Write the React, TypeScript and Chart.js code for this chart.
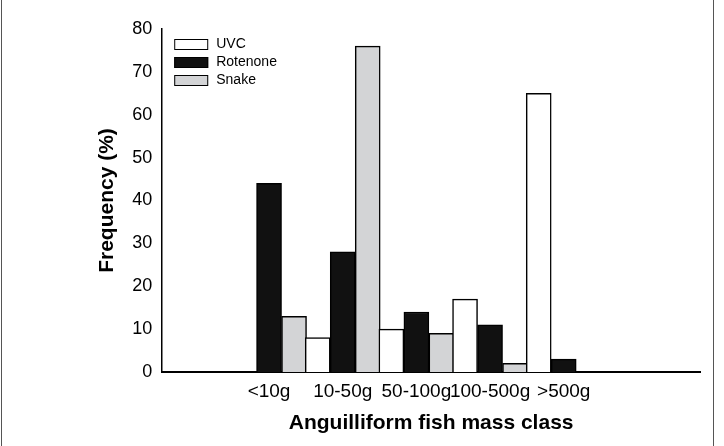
import React, { useEffect, useRef } from "react";
import { Chart, registerables } from "chart.js";
Chart.register(...registerables);

const categories = ["<10g", "10-50g", "50-100g", "100-500g", ">500g"];
const uvc = [0, 8, 10, 17, 65];
const rotenone = [44, 28, 14, 11, 3];
const snake = [13, 76, 9, 2, 0];
const yTicks = [0, 10, 20, 30, 40, 50, 60, 70, 80];

const legendPlugin = {
  id: "insideLegend",
  afterDraw(chart: any) {
    const ctx = chart.ctx;
    const { left, top } = chart.chartArea;
    ctx.save();
    ctx.font = "14px Arial, 'Liberation Sans', sans-serif";
    ctx.textBaseline = "middle";
    chart.data.datasets.forEach((ds: any, i: number) => {
      const y = top + 15 + i * 18;
      const x = left + 12;
      ctx.fillStyle = ds.backgroundColor;
      ctx.fillRect(x, y - 5, 34, 11);
      ctx.strokeStyle = "#000";
      ctx.lineWidth = 1;
      ctx.strokeRect(x + 0.5, y - 4.5, 33, 10);
      ctx.fillStyle = "#000";
      ctx.fillText(ds.label, x + 42, y);
    });
    ctx.restore();
  },
};

export default function App() {
  const ref = useRef<HTMLCanvasElement>(null);
  useEffect(() => {
    const mk = (arr: number[]) => arr.map((v, i) => ({ x: i, y: v }));
    const common = { borderColor: "#000", borderWidth: 1.5, barThickness: 25, borderSkipped: "bottom" };
    const chart = new Chart(ref.current!, {
      type: "bar",
      data: {
        datasets: [
          { label: "UVC", data: mk(uvc), backgroundColor: "#ffffff", ...common },
          { label: "Rotenone", data: mk(rotenone), backgroundColor: "#111111", ...common },
          { label: "Snake", data: mk(snake), backgroundColor: "#d3d4d6", ...common },
        ] as any,
      },
      options: {
        animation: false,
        responsive: false,
        layout: { padding: { left: 91, right: 24, top: 29, bottom: 10 } },
        plugins: { legend: { display: false }, tooltip: { enabled: false } },
        scales: {
          x: {
            type: "linear",
            min: -0.72,
            max: 5.12,
            grid: { display: false, drawTicks: false },
            border: { color: "#000", width: 2 },
            afterBuildTicks: (axis: any) => {
              axis.ticks = categories.map((_, i) => ({ value: i }));
            },
            ticks: {
              autoSkip: false,
              maxRotation: 0,
              padding: 8,
              color: "#000",
              font: { size: 19, family: "Arial, 'Liberation Sans', sans-serif" },
              callback: (v: any) => categories[v] ?? "",
            },
            title: {
              display: true,
              text: "Anguilliform fish mass class",
              color: "#000",
              font: { size: 21, weight: "bold", family: "Arial, 'Liberation Sans', sans-serif" },
              padding: { top: 0, bottom: 0 },
            },
          },
          y: {
            min: 0,
            max: 80,
            grid: { display: false, drawOnChartArea: false, drawTicks: true, tickLength: 6, color: "#000", tickWidth: 1.5 } as any,
            border: { color: "#000", width: 1.5 },
            afterBuildTicks: (axis: any) => {
              axis.ticks = yTicks.map((v) => ({ value: v }));
            },
            ticks: {
              color: "#000",
              padding: 4,
              font: { size: 18, family: "Arial, 'Liberation Sans', sans-serif" },
            },
            title: {
              display: true,
              text: "Frequency (%)",
              color: "#000",
              font: { size: 21, weight: "bold", family: "Arial, 'Liberation Sans', sans-serif" },
              padding: { bottom: 8 },
            },
          },
        },
      } as any,
      plugins: [legendPlugin],
    });
    return () => chart.destroy();
  }, []);
  return (
    <div style={{ position: "fixed", left: 0, top: 0, width: 724, height: 446, background: "#fff" }}>
      <div style={{ position: "absolute", left: 1, top: 0, width: 1, height: 446, background: "#555" }} />
      <div style={{ position: "absolute", left: 713, top: 0, width: 1, height: 446, background: "#555" }} />
      <canvas ref={ref} width={724} height={446} style={{ display: "block" }} />
    </div>
  );
}
